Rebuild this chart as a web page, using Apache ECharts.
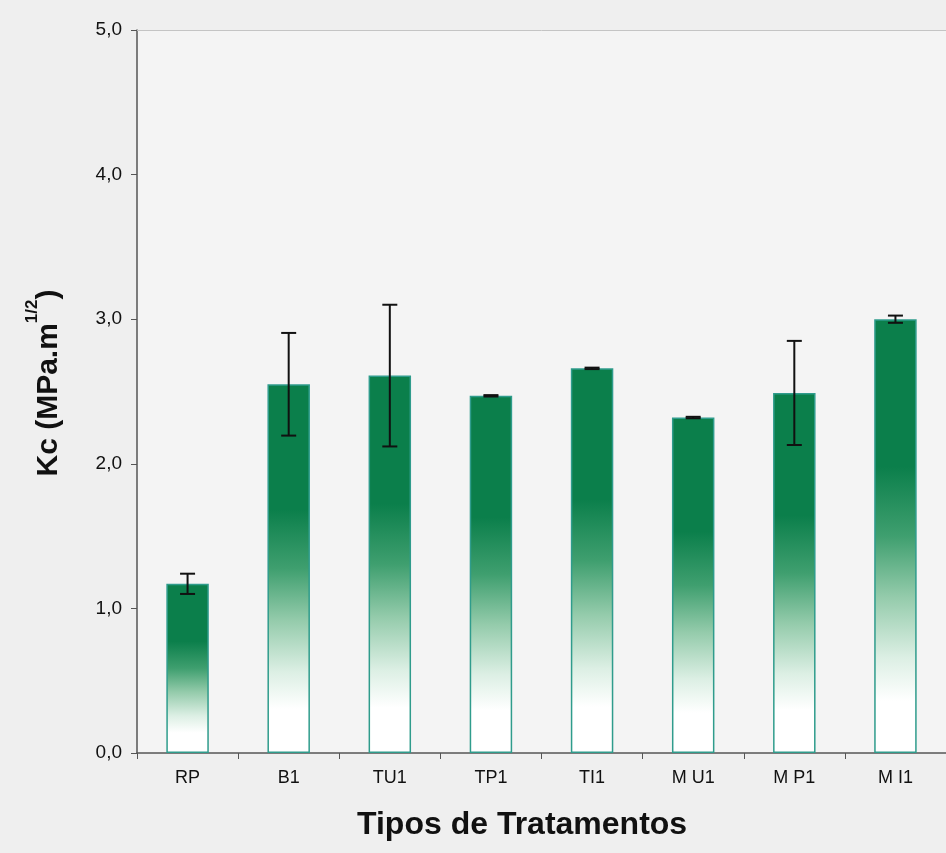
<!DOCTYPE html>
<html>
<head>
<meta charset="utf-8">
<title>Kc por tipo de tratamento</title>
<script src="https://cdn.jsdelivr.net/npm/echarts@6/dist/echarts.min.js"></script>
<style>
  html, body { margin: 0; padding: 0; background: #efefef; }
  #chart { width: 946px; height: 853px; }
</style>
</head>
<body>
<div id="chart"></div>
<script>
// Treatments and fracture toughness Kc (mean and standard deviation)
var categories = ['RP', 'B1', 'TU1', 'TP1', 'TI1', 'M U1', 'M P1', 'M I1'];
var kcMean = [1.17, 2.55, 2.61, 2.47, 2.66, 2.32, 2.49, 3.00];
var kcDev  = [0.07, 0.355, 0.49, 0.005, 0.005, 0.005, 0.36, 0.025];
var yTicks = [0, 1, 2, 3, 4, 5];

var chart = echarts.init(document.getElementById('chart'), null, { renderer: 'canvas' });

var barFill = new echarts.graphic.LinearGradient(0, 0, 0, 1, [
  { offset: 0.00, color: '#0b7f4b' },
  { offset: 0.34, color: '#0b7f4b' },
  { offset: 0.50, color: '#3f9f6f' },
  { offset: 0.64, color: '#94cbab' },
  { offset: 0.78, color: '#dcefe4' },
  { offset: 0.88, color: '#ffffff' },
  { offset: 1.00, color: '#ffffff' }
]);

var errData = categories.map(function (c, i) {
  return [i, kcMean[i] - kcDev[i], kcMean[i] + kcDev[i]];
});

var labelFont = 'Liberation Sans, Arial, sans-serif';

var option = {
  backgroundColor: '#efefef',
  animation: false,
  grid: {
    left: 137, top: 30, width: 814, bottom: 100,
    show: true, backgroundColor: '#f4f4f4', borderWidth: 0
  },
  xAxis: [
    {
      type: 'category',
      data: categories,
      axisLine: { lineStyle: { color: '#555', width: 1.5 } },
      axisTick: { show: true, length: 6, lineStyle: { color: '#555', width: 1 } },
      axisLabel: { color: '#111', fontFamily: labelFont, fontSize: 18, margin: 16 },
      splitLine: { show: false }
    },
    {
      // thin frame line along the top of the plot area
      type: 'category',
      data: categories,
      position: 'top',
      axisLine: { lineStyle: { color: '#c4c4c4', width: 1 } },
      axisTick: { show: false },
      axisLabel: { show: false }
    }
  ],
  yAxis: {
    type: 'value',
    min: yTicks[0], max: yTicks[yTicks.length - 1], interval: 1,
    axisLine: { show: true, lineStyle: { color: '#555', width: 1.5 } },
    axisTick: { show: true, length: 6, lineStyle: { color: '#555', width: 1 } },
    axisLabel: {
      color: '#111', fontFamily: labelFont, fontSize: 19, margin: 15,
      formatter: function (v) { return v.toFixed(1).replace('.', ','); }
    },
    splitLine: { show: false }
  },
  series: [
    {
      type: 'bar',
      data: kcMean,
      barWidth: '42%',
      itemStyle: { color: barFill, borderColor: '#2f9c8c', borderWidth: 1.5 }
    },
    {
      type: 'custom',
      data: errData,
      z: 10,
      renderItem: function (params, api) {
        var x = api.value(0);
        var lo = api.coord([x, api.value(1)]);
        var hi = api.coord([x, api.value(2)]);
        var half = 7.5;
        var style = { stroke: '#111', lineWidth: 2 };
        return {
          type: 'group',
          children: [
            { type: 'line', shape: { x1: lo[0], y1: lo[1], x2: hi[0], y2: hi[1] }, style: style },
            { type: 'line', shape: { x1: hi[0] - half, y1: hi[1], x2: hi[0] + half, y2: hi[1] }, style: style },
            { type: 'line', shape: { x1: lo[0] - half, y1: lo[1], x2: lo[0] + half, y2: lo[1] }, style: style }
          ]
        };
      }
    }
  ],
  graphic: [
    {
      type: 'text',
      left: 357, top: 809,
      style: {
        text: 'Tipos de Tratamentos',
        fill: '#111',
        font: 'bold 32px "Liberation Sans", Arial, sans-serif'
      }
    },
    {
      type: 'text',
      x: 44, y: 383,
      rotation: Math.PI / 2,
      style: {
        text: '{m|Kc (MPa.m}{s|1/2}{m|)}',
        align: 'center',
        verticalAlign: 'middle',
        fill: '#111',
        rich: {
          m: { fontSize: 30, fontWeight: 'bold', fontFamily: labelFont, lineHeight: 40, verticalAlign: 'bottom', fill: '#111' },
          s: { fontSize: 17, fontWeight: 'bold', fontFamily: labelFont, lineHeight: 40, verticalAlign: 'top', fill: '#111' }
        }
      }
    }
  ]
};

chart.setOption(option);
</script>
</body>
</html>
